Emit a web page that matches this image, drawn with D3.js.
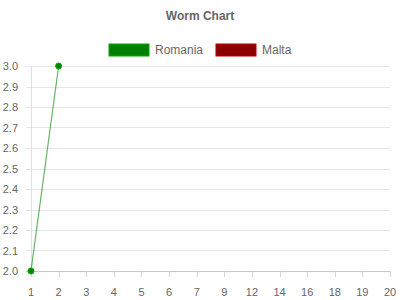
<!DOCTYPE html>
<html><head><meta charset="utf-8">
<script src="https://cdn.jsdelivr.net/npm/d3@7"></script>
<style>body{margin:0;background:#fff}svg{display:block;font-family:"Liberation Sans",Arial,sans-serif}</style>
</head><body><svg id="c" width="400" height="300"></svg>
<script>
(function(){
const categories = ["1","2","3","4","5","6","7","9","12","14","16","18","19","20"];
const seriesNames = ["Romania","Malta"];
const seriesColors = ["#008000","#8b0000"];
const romania = [2.0, 3.0];
const malta = [];
const yTicks = [2.0,2.1,2.2,2.3,2.4,2.5,2.6,2.7,2.8,2.9,3.0];

const svg = d3.select("#c");
const pL = 31, pR = 390, pT = 66, pB = 271;
const x = d3.scalePoint().domain(categories).range([pL, pR]);
const y = d3.scaleLinear().domain([2.0, 3.0]).range([pB, pT]);

svg.append("text").attr("x",200).attr("y",20).attr("text-anchor","middle")
  .attr("font-size",12).attr("font-weight","bold").attr("fill","#666").text("Worm Chart");

const legX = [109, 216];
seriesNames.forEach((n,i)=>{
  svg.append("rect").attr("x",legX[i]).attr("y",44).attr("width",40).attr("height",12)
    .attr("fill",seriesColors[i]).attr("stroke",d3.color(seriesColors[i]).brighter(0.8)).attr("stroke-width",1);
  svg.append("text").attr("x",legX[i]+46).attr("y",54).attr("font-size",12).attr("fill","#666").text(n);
});

yTicks.forEach(t=>{
  svg.append("line").attr("x1",pL-5).attr("x2",pR).attr("y1",Math.round(y(t))+0.5).attr("y2",Math.round(y(t))+0.5)
    .attr("stroke", t===2.0 ? "#c8c8c8" : "#e6e6e6").attr("stroke-width",1);
  svg.append("text").attr("x",18).attr("y",y(t)+4).attr("text-anchor","end")
    .attr("font-size",11).attr("fill","#666").text(t.toFixed(1));
});
svg.append("line").attr("x1",pL+0.5).attr("x2",pL+0.5).attr("y1",pT).attr("y2",pB+5)
  .attr("stroke","#e0e0e0");
categories.forEach(c=>{
  svg.append("line").attr("x1",Math.round(x(c))+0.5).attr("x2",Math.round(x(c))+0.5)
    .attr("y1",pB).attr("y2",pB+6).attr("stroke","#d8d8d8");
  svg.append("text").attr("x",x(c)).attr("y",pB+25).attr("text-anchor","middle")
    .attr("font-size",11).attr("fill","#666").text(c);
});

[romania, malta].forEach((vals,i)=>{
  const pts = vals.map((v,j)=>[x(categories[j]), y(v)]);
  if (pts.length>1) svg.append("path").attr("d",d3.line()(pts)).attr("fill","none")
    .attr("stroke",seriesColors[i]).attr("stroke-opacity",0.6).attr("stroke-width",1.2);
  pts.forEach(p=>svg.append("circle").attr("cx",p[0]).attr("cy",p[1]).attr("r",3)
    .attr("fill",seriesColors[i]).attr("stroke",d3.color(seriesColors[i]).brighter(0.8)).attr("stroke-width",1));
});
})();
</script></body></html>
